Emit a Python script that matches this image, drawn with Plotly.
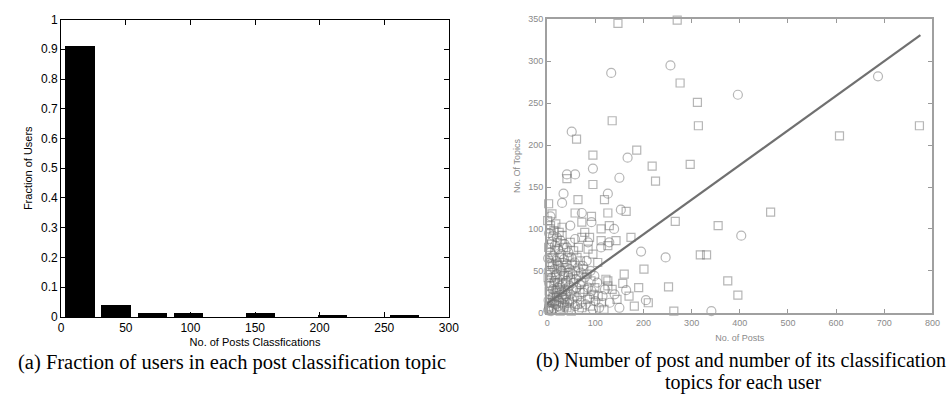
import plotly.graph_objects as go

# ---------------- Left chart data ----------------
bin_centers = [14.7, 42.5, 71.0, 98.5, 154.4, 210.4, 266.0]
fractions = [0.913, 0.043, 0.014, 0.014, 0.014, 0.0075, 0.0075]
left_xticks = [0, 50, 100, 150, 200, 250, 300]
left_yticks = [0, 0.1, 0.2, 0.3, 0.4, 0.5, 0.6, 0.7, 0.8, 0.9, 1]
left_yticktext = ["0", "0.1", "0.2", "0.3", "0.4", "0.5", "0.6", "0.7", "0.8", "0.9", "1"]

# ---------------- Right chart data ----------------
circle_x = [133, 256, 396, 687, 51, 167, 95, 41, 150, 403, 341, 246, 195, 164, 205,
            58, 34, 126, 31, 72, 153, 7, 48, 92, 139, 58, 85, 129, 41, 112,
            2, 5, 8, 3, 10, 14, 6, 12, 18, 20, 4, 9, 16, 22, 25, 28, 30, 34, 3, 8,
            15, 20, 26, 32, 38, 42, 45, 48, 52, 2, 7, 13, 19, 24, 30, 36, 40, 46, 54, 58,
            62, 66, 70, 10, 16, 23, 29, 35, 41, 47, 53, 60, 68, 75, 80, 88, 95, 4, 12, 20,
            28, 36, 44, 50, 57, 64, 70, 78, 85, 92, 100, 108, 115, 5, 11, 17, 23, 27, 33, 39,
            44, 55, 61, 74, 82, 90, 98, 104, 120, 130, 140, 150]
circle_y = [286, 295, 260, 282, 216, 185, 172, 165, 161, 92, 2, 66, 73, 27, 15,
            165, 142, 142, 131, 119, 123, 115, 104, 108, 100, 88, 84, 84, 78, 78,
            3, 8, 2, 15, 12, 5, 22, 28, 10, 20, 35, 42, 38, 30, 14, 6, 25, 18, 50, 58,
            52, 46, 40, 34, 28, 12, 4, 22, 16, 65, 72, 68, 62, 56, 50, 46, 38, 32, 28, 8,
            18, 4, 12, 85, 80, 76, 70, 64, 58, 52, 46, 40, 34, 24, 10, 18, 4, 95, 92, 90,
            86, 82, 72, 66, 60, 54, 48, 42, 30, 26, 14, 6, 20, 5, 18, 26, 8, 32, 10, 20,
            44, 36, 30, 56, 62, 50, 44, 36, 28, 12, 22, 6]

square_x = [147, 270, 276, 312, 314, 135, 61, 95, 186, 218, 297, 41, 225, 95, 607,
            773, 464, 375, 396, 266, 355, 318, 331, 252, 263, 201, 174, 157, 181, 160,
            126, 126, 64, 119, 58, 92, 126, 164, 7, 31, 72, 112, 129, 31, 72, 112, 143, 65,
            85, 126,
            3, 6, 9, 12, 15, 4, 8, 14, 19, 24, 27, 31, 36, 2, 7, 11, 17, 22, 26, 32,
            37, 41, 46, 50, 5, 10, 16, 21, 27, 33, 38, 43, 49, 56, 63, 68, 72, 3, 9, 14,
            21, 26, 31, 37, 44, 51, 58, 65, 71, 77, 84, 90, 97, 6, 18, 25, 34, 42, 48, 55,
            62, 69, 76, 83, 91, 99, 106, 113, 118, 122, 135, 145, 170, 190, 210, 105, 95, 88, 78, 1,
            10, 3]
square_y = [345, 349, 274, 251, 223, 229, 207, 188, 194, 175, 177, 160, 157, 153, 211,
            223, 120, 38, 21, 109, 104, 69, 69, 31, 2, 52, 90, 35, 8, 46,
            32, 38, 135, 135, 119, 115, 119, 121, 104, 102, 108, 100, 104, 92, 90, 86, 86, 78,
            76, 80,
            6, 12, 4, 20, 14, 26, 32, 36, 24, 18, 2, 12, 8, 42, 48, 55, 44, 36, 28, 22,
            16, 6, 14, 2, 60, 66, 74, 58, 52, 44, 36, 26, 40, 20, 10, 24, 6, 78, 82, 98,
            84, 66, 60, 54, 48, 58, 50, 44, 36, 28, 16, 8, 22, 100, 106, 96, 78, 66, 84, 74,
            66, 62, 52, 46, 38, 30, 20, 12, 4, 40, 28, 16, 20, 30, 12, 60, 70, 90, 96, 110,
            118, 130]

fit_x = [0, 775]
fit_y = [11, 331]

right_xticks = [0, 100, 200, 300, 400, 500, 600, 700, 800]
right_yticks = [0, 50, 100, 150, 200, 250, 300, 350]

fig = go.Figure()

fig.add_trace(go.Bar(x=bin_centers, y=fractions, width=22.6,
                     marker=dict(color="black", line=dict(width=0)),
                     xaxis="x", yaxis="y", showlegend=False))

gray_m = "rgba(110,110,110,0.5)"
fig.add_trace(go.Scatter(x=circle_x, y=circle_y, mode="markers",
                         marker=dict(symbol="circle-open", size=9, color=gray_m,
                                     line=dict(width=1.2)),
                         xaxis="x2", yaxis="y2", showlegend=False, cliponaxis=False))
fig.add_trace(go.Scatter(x=square_x, y=square_y, mode="markers",
                         marker=dict(symbol="square-open", size=8, color=gray_m,
                                     line=dict(width=1.2)),
                         xaxis="x2", yaxis="y2", showlegend=False, cliponaxis=False))
fig.add_trace(go.Scatter(x=fit_x, y=fit_y, mode="lines",
                         line=dict(color="#707070", width=2.2),
                         xaxis="x2", yaxis="y2", showlegend=False))

W, H = 952, 407
lfont = dict(family="Liberation Sans, Arial", size=12, color="black")
rfont = dict(family="Liberation Sans, Arial", size=9, color="#8a8a8a")

fig.update_layout(
    width=W, height=H,
    margin=dict(l=0, r=0, t=0, b=0),
    paper_bgcolor="white", plot_bgcolor="white",
    bargap=0,
    xaxis=dict(domain=[59 / W, 452 / W], range=[0, 300], tickvals=left_xticks,
               ticks="inside", ticklen=5, tickcolor="black", showline=True,
               linecolor="black", linewidth=1, mirror="ticks", showgrid=False,
               zeroline=False, tickfont=lfont, anchor="y",
               title=dict(text="No. of Posts Classfications",
                          font=dict(family="Liberation Sans, Arial", size=11, color="black"),
                          standoff=3)),
    yaxis=dict(domain=[1 - 321 / H, 1 - 13 / H], range=[0, 1], tickvals=left_yticks,
               ticktext=left_yticktext,
               ticks="inside", ticklen=5, tickcolor="black", showline=True,
               linecolor="black", linewidth=1, mirror="ticks", showgrid=False,
               zeroline=False, tickfont=lfont, anchor="x",
               title=dict(text="Fraction of Users",
                          font=dict(family="Liberation Sans, Arial", size=11, color="black"),
                          standoff=6)),
    xaxis2=dict(domain=[551.7 / W, 942.3 / W], range=[0, 800], tickvals=right_xticks,
                ticks="inside", ticklen=4, tickcolor="#999", showline=True,
                linecolor="#a0a0a0", linewidth=2, mirror="ticks", showgrid=False,
                zeroline=False, tickfont=rfont, anchor="y2",
                title=dict(text="No. of Posts",
                           font=dict(family="Liberation Sans, Arial", size=9, color="#8a8a8a"),
                           standoff=8)),
    yaxis2=dict(domain=[1 - 316.7 / H, 1 - 12.7 / H], range=[0, 350], tickvals=right_yticks,
                ticks="inside", ticklen=4, tickcolor="#999", showline=True,
                linecolor="#a0a0a0", linewidth=2, mirror="ticks", showgrid=False,
                zeroline=False, tickfont=rfont, anchor="x2",
                title=dict(text="No. Of Topics",
                           font=dict(family="Liberation Sans, Arial", size=9, color="#8a8a8a"),
                           standoff=6)),
)

cap_font_a = dict(family="Liberation Serif, Times New Roman", size=20.5, color="black")
cap_font_b = dict(family="Liberation Serif, Times New Roman", size=20, color="black")
fig.add_annotation(text="(a) Fraction of users in each post classification topic",
                   x=232 / W, y=1 - 368 / H, xref="paper", yref="paper",
                   showarrow=False, font=cap_font_a, xanchor="center", yanchor="middle")
fig.add_annotation(text="(b) Number of post and number of its classification",
                   x=748 / W, y=1 - 366 / H, xref="paper", yref="paper",
                   showarrow=False, font=cap_font_b, xanchor="center", yanchor="middle")
fig.add_annotation(text="topics for each user",
                   x=750 / W, y=1 - 389 / H, xref="paper", yref="paper",
                   showarrow=False, font=cap_font_b, xanchor="center", yanchor="middle")

fig.write_html("out.html")
